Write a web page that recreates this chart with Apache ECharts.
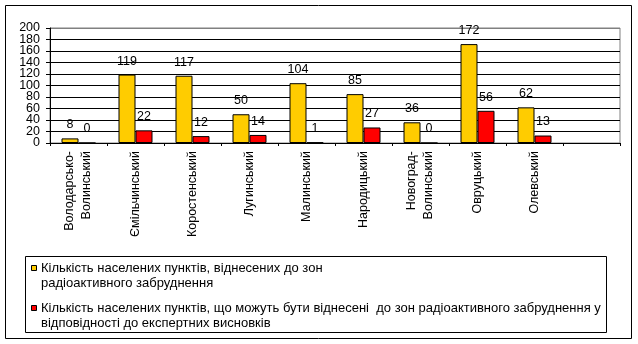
<!DOCTYPE html>
<html>
<head>
<meta charset="utf-8">
<script src="https://cdn.jsdelivr.net/npm/echarts@6/dist/echarts.min.js"></script>
<style>
html,body{margin:0;padding:0;background:#fff;}
#chart{width:638px;height:344px;}
</style>
</head>
<body>
<div id="chart"></div>
<script>
var categories = ['Володарсько-\nВолинський', 'Ємільчинський', 'Коростенський', 'Лугинський', 'Малинський', 'Народицький', 'Новоград-\nВолинський', 'Овруцький', 'Олевський', ''];
var seriesNames = [
  'Кількість населених пунктів, віднесених до зон радіоактивного забруднення',
  'Кількість населених пунктів, що можуть бути віднесені  до зон радіоактивного забруднення у відповідності до експертних висновків'
];
var legendLabels = [
  'Кількість населених пунктів, віднесених до зон\nрадіоактивного забруднення',
  'Кількість населених пунктів, що можуть бути віднесені  до зон радіоактивного забруднення у\nвідповідності до експертних висновків'
];
var assignedValues = [8, 119, 117, 50, 104, 85, 36, 172, 62, null];
var possibleValues = [0, 22, 12, 14, 1, 27, 0, 56, 13, null];
var yTicks = [0, 20, 40, 60, 80, 100, 120, 140, 160, 180, 200];
var yTickLabels = ['0', '20', '40', '60', '80', '100', '120', '140', '160', '180', '200'];
var colors = ['#FFCC00', '#FF0000'];

var FONT = "'Liberation Sans', Arial, sans-serif";
var chart = echarts.init(document.getElementById('chart'), null, {renderer: 'canvas'});

var splitColors = yTicks.map(function (v, i) { return i === yTicks.length - 1 ? '#808080' : '#000000'; });

function barSeries(name, data, color) {
  return {
    name: name,
    type: 'bar',
    data: data,
    yAxisIndex: 0,
    barWidth: 17,
    barGap: '0%',
    itemStyle: {color: color, borderColor: '#000', borderWidth: 1},
    label: {show: true, position: 'top', distance: 7, color: '#000', fontFamily: FONT, fontSize: 12.5},
    emphasis: {disabled: true},
    animation: false
  };
}

var option = {
  animation: false,
  backgroundColor: '#fff',
  grid: {left: 50, right: 18, top: 28, bottom: 201, show: true, borderColor: '#808080', borderWidth: 1, backgroundColor: '#fff'},
  xAxis: {
    type: 'category',
    data: categories,
    axisLine: {lineStyle: {color: '#000', width: 1}},
    axisTick: {show: true, length: 3, lineStyle: {color: '#000'}},
    axisLabel: {interval: 0, rotate: 90, color: '#000', fontFamily: FONT, fontSize: 12.5, lineHeight: 17, margin: 8, hideOverlap: false}
  },
  yAxis: [
    {
      type: 'value',
      position: 'left',
      min: yTicks[0],
      max: yTicks[yTicks.length - 1],
      interval: 20,
      axisLine: {show: true, lineStyle: {color: '#000', width: 1}},
      axisTick: {show: true, length: 4, lineStyle: {color: '#000'}},
      axisLabel: {show: false},
      splitLine: {show: true, lineStyle: {color: splitColors, width: 1}}
    },
    {
      type: 'category',
      position: 'left',
      data: yTickLabels,
      boundaryGap: false,
      axisLine: {show: false},
      axisTick: {show: false},
      splitLine: {show: false},
      axisLabel: {interval: 0, color: '#000', fontFamily: FONT, fontSize: 12.5, margin: 10, hideOverlap: false}
    }
  ],
  series: [
    barSeries(seriesNames[0], assignedValues, colors[0]),
    barSeries(seriesNames[1], possibleValues, colors[1])
  ],
  graphic: [
    {type: 'rect', shape: {x: 5.5, y: 5.5, width: 626, height: 333}, style: {fill: null, stroke: '#000', lineWidth: 1}, silent: true},
    {type: 'rect', shape: {x: 25.5, y: 256.5, width: 581, height: 76}, style: {fill: '#fff', stroke: '#000', lineWidth: 1}, silent: true},
    {type: 'rect', shape: {x: 31.5, y: 265.5, width: 5, height: 5}, style: {fill: colors[0], stroke: '#000', lineWidth: 1}, silent: true},
    {type: 'rect', shape: {x: 31.5, y: 305.5, width: 5, height: 5}, style: {fill: colors[1], stroke: '#000', lineWidth: 1}, silent: true},
    {type: 'text', x: 41, y: 260.5, style: {text: legendLabels[0], fill: '#000', font: '13px ' + FONT, lineHeight: 15.5, verticalAlign: 'top'}, silent: true},
    {type: 'text', x: 41, y: 300.5, style: {text: legendLabels[1], fill: '#000', font: '13px ' + FONT, lineHeight: 15.5, verticalAlign: 'top'}, silent: true}
  ]
};
chart.setOption(option);
</script>
</body>
</html>
